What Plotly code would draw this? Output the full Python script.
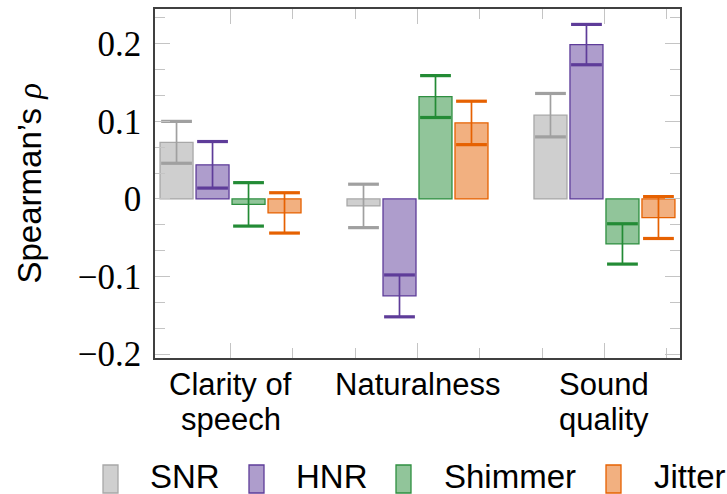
import plotly.graph_objects as go

# ---------------- data ----------------
categories = ["Clarity of\nspeech", "Naturalness", "Sound\nquality"]
series_names = ["SNR", "HNR", "Shimmer", "Jitter"]

snr = [0.073, -0.009, 0.108]
snr_err = [0.027, 0.028, 0.028]
hnr = [0.044, -0.125, 0.199]
hnr_err = [0.030, 0.027, 0.026]
shimmer = [-0.007, 0.132, -0.058]
shimmer_err = [0.028, 0.027, 0.026]
jitter = [-0.018, 0.098, -0.024]
jitter_err = [0.026, 0.028, 0.027]

y_tick_vals = [-0.2, -0.1, 0, 0.1, 0.2]
y_tick_text = ["\u22120.2", "\u22120.1", "0", "0.1", "0.2"]

values = [snr, hnr, shimmer, jitter]
errors = [snr_err, hnr_err, shimmer_err, jitter_err]

# ---------------- style ----------------
base_colors = [(160, 160, 160), (94, 60, 153), (35, 139, 53), (230, 97, 1)]
border_colors = ["#a8a8a8", "#5e3c99", "#2e8f40", "#e66101"]
err_colors = ["#a0a0a0", "#5e3c99", "#238b35", "#e66101"]

W, H = 727, 494
ML, MR, MT, MB = 155, 47, 7, 136
SLOT = 36 / 187.0
BARW = 33 / 187.0
SANS = "Liberation Sans, Arial, sans-serif"
SERIF = "Liberation Serif, Times New Roman, serif"
TICKC = "#c4c4c4"
FRAME = "#404040"

fig = go.Figure()
n = len(series_names)
for k, name in enumerate(series_names):
    xs = [i + (k - (n - 1) / 2) * SLOT for i in range(len(categories))]
    r, g, b = base_colors[k]
    fig.add_trace(go.Bar(
        x=xs, y=values[k], width=BARW, name=name, showlegend=False,
        marker=dict(color=f"rgba({r},{g},{b},0.5)",
                    line=dict(color=border_colors[k], width=1.3)),
        error_y=dict(type="data", array=errors[k], color=err_colors[k],
                     thickness=1.7, width=11),
        hoverinfo="skip",
    ))
    cap_y = [v + e for v, e in zip(values[k], errors[k])] + \
            [v - e for v, e in zip(values[k], errors[k])]
    fig.add_trace(go.Scatter(
        x=xs + xs, y=cap_y, mode="markers", showlegend=False, hoverinfo="skip",
        marker=dict(symbol="line-ew", size=22,
                    line=dict(color=err_colors[k], width=3.2)),
    ))

annotations = []
# category labels (multi-line, tight spacing)
for i, cat in enumerate(categories):
    for j, line in enumerate(cat.split("\n")):
        annotations.append(dict(
            x=i, xref="x", y=0, yref="paper", yanchor="middle", xanchor="center",
            yshift=-(384 + 35 * j - (H - MB)), text=line, showarrow=False,
            font=dict(family=SANS, size=31, color="black")))

# y-axis title
annotations.append(dict(
    x=0, xref="paper", y=0.5, yref="paper", xanchor="center", yanchor="middle",
    xshift=29 - ML, textangle=-90, showarrow=False,
    text="Spearman\u2019s <span style='font-family:Liberation Serif'><i>\u03c1</i></span>",
    font=dict(family=SANS, size=33, color="black")))

# legend (manual)
box_left = [103, 249, 396, 606]
text_left = [148, 294, 442, 652]
shapes = []
for k, name in enumerate(series_names):
    r, g, b = base_colors[k]
    shapes.append(dict(
        type="rect", xref="paper", yref="paper", xsizemode="pixel", ysizemode="pixel",
        xanchor=0, yanchor=0,
        x0=box_left[k] - ML, x1=box_left[k] + 15 - ML,
        y0=(H - MB) - 493, y1=(H - MB) - 465,
        fillcolor=f"rgba({r},{g},{b},0.5)",
        line=dict(color=border_colors[k], width=1.3)))
    annotations.append(dict(
        x=0, xref="paper", y=0, yref="paper", xanchor="left", yanchor="middle",
        xshift=text_left[k] - ML, yshift=-(476 - (H - MB)), text=name,
        showarrow=False, font=dict(family=SANS, size=33, color="black")))

fig.update_layout(
    width=W, height=H, margin=dict(l=ML, r=MR, t=MT, b=MB),
    paper_bgcolor="white", plot_bgcolor="white",
    barmode="overlay", showlegend=False,
    annotations=annotations, shapes=shapes,
    xaxis=dict(
        range=[-0.404, 2.404], tickvals=[0, 1, 2], showticklabels=False,
        ticks="inside", ticklen=15, tickwidth=1, tickcolor=TICKC,
        minor=dict(tickvals=[1/3, 2/3, 4/3, 5/3, 7/3], ticks="inside",
                   ticklen=10, tickwidth=1, tickcolor=TICKC, showgrid=False),
        showline=True, linecolor=FRAME, linewidth=1.5, mirror="ticks",
        showgrid=False, zeroline=False, fixedrange=True),
    yaxis=dict(
        range=[-0.2051, 0.2449], tickvals=y_tick_vals, ticktext=y_tick_text,
        ticks="inside", ticklen=15, tickwidth=1, tickcolor=TICKC,
        minor=dict(dtick=0.1 / 3, tick0=0, ticks="inside", ticklen=10,
                   tickwidth=1, tickcolor=TICKC, showgrid=False),
        tickfont=dict(family=SERIF, size=35, color="black"),
        ticklabelstandoff=5,
        showline=True, linecolor=FRAME, linewidth=1.5, mirror="ticks",
        showgrid=False, zeroline=False, fixedrange=True),
)

fig.write_html("out.html")
